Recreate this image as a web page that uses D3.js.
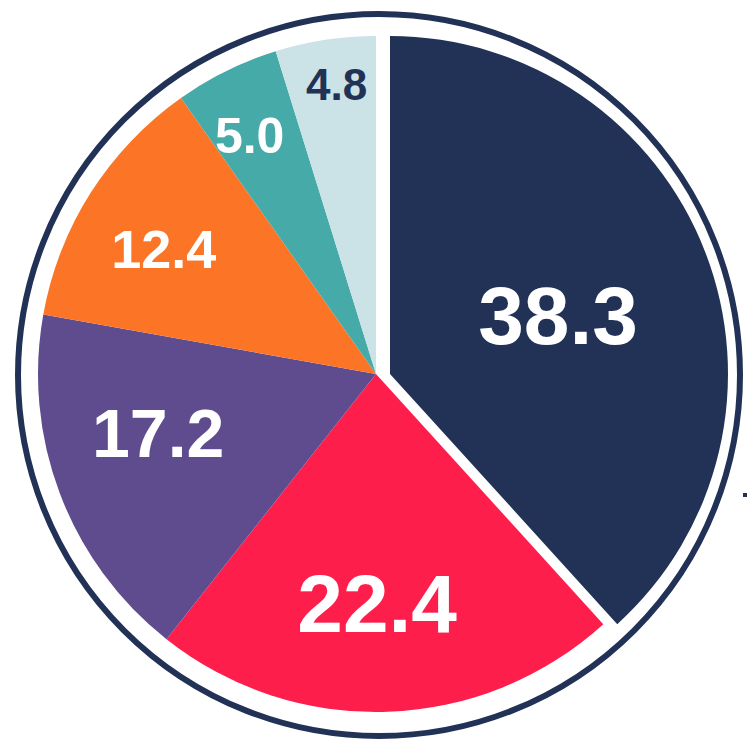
<!DOCTYPE html>
<html>
<head>
<meta charset="utf-8">
<script src="https://cdn.jsdelivr.net/npm/d3@7/dist/d3.min.js"></script>
<style>
  html, body { margin: 0; padding: 0; background: #ffffff; }
  svg { display: block; }
  text { font-family: "Liberation Sans", Arial, Helvetica, sans-serif; font-weight: bold; }
</style>
</head>
<body>
<svg id="chart" width="751" height="746"></svg>
<script>
// Data
const categories = ["A", "B", "C", "D", "E", "F"];
const values = [38.3, 22.4, 17.2, 12.4, 5.0, 4.8];
const labels = ["38.3", "22.4", "17.2", "12.4", "5.0", "4.8"];
const colors = ["#213256", "#FE1E4B", "#5E4C8E", "#FC7425", "#45AAA8", "#CBE2E7"];
const labelColors = ["#ffffff", "#ffffff", "#ffffff", "#ffffff", "#ffffff", "#213256"];

const svg = d3.select("#chart");
const cx = 376, cy = 374, r = 338;
const explode = 14;

// outer ring
svg.append("circle")
  .attr("cx", 379).attr("cy", 375).attr("r", 361)
  .attr("fill", "none").attr("stroke", "#213256").attr("stroke-width", 6);

const pie = d3.pie().sort(null).value(d => d)(values);
const arc = d3.arc().innerRadius(0).outerRadius(r);

const g = svg.append("g").attr("transform", `translate(${cx},${cy})`);

g.selectAll("path.slice")
  .data(pie)
  .join("path")
  .attr("class", "slice")
  .attr("d", arc)
  .attr("fill", (d, i) => colors[i])
  .attr("transform", (d, i) => i === 0 ? `translate(${explode},0)` : null);

// label placement: radial fraction and angular offset (degrees) per slice
const labelRadius = [0.527, 0.675, 0.667, 0.730, 0.80, 0.866];
const labelAngleOffset = [1.7, 1.7, 5.8, -1.8, -1.6, 0.9];
const fontSizes = [82, 82, 68, 54, 50, 44];
const lblPos = (d, i) => {
  const a = (d.startAngle + d.endAngle) / 2 + labelAngleOffset[i] * Math.PI / 180;
  return [Math.sin(a) * r * labelRadius[i] + (i === 0 ? explode : 0),
          -Math.cos(a) * r * labelRadius[i]];
};
g.selectAll("text.lbl")
  .data(pie)
  .join("text")
  .attr("class", "lbl")
  .attr("text-anchor", "middle")
  .attr("font-size", (d, i) => fontSizes[i])
  .attr("fill", (d, i) => labelColors[i])
  .attr("x", (d, i) => lblPos(d, i)[0])
  .attr("y", (d, i) => lblPos(d, i)[1])
  .attr("dy", "0.36em")
  .text((d, i) => labels[i]);

// small stray mark at right
svg.append("rect").attr("x", 743).attr("y", 493).attr("width", 4).attr("height", 4).attr("fill", "#213256");
</script>
</body>
</html>
